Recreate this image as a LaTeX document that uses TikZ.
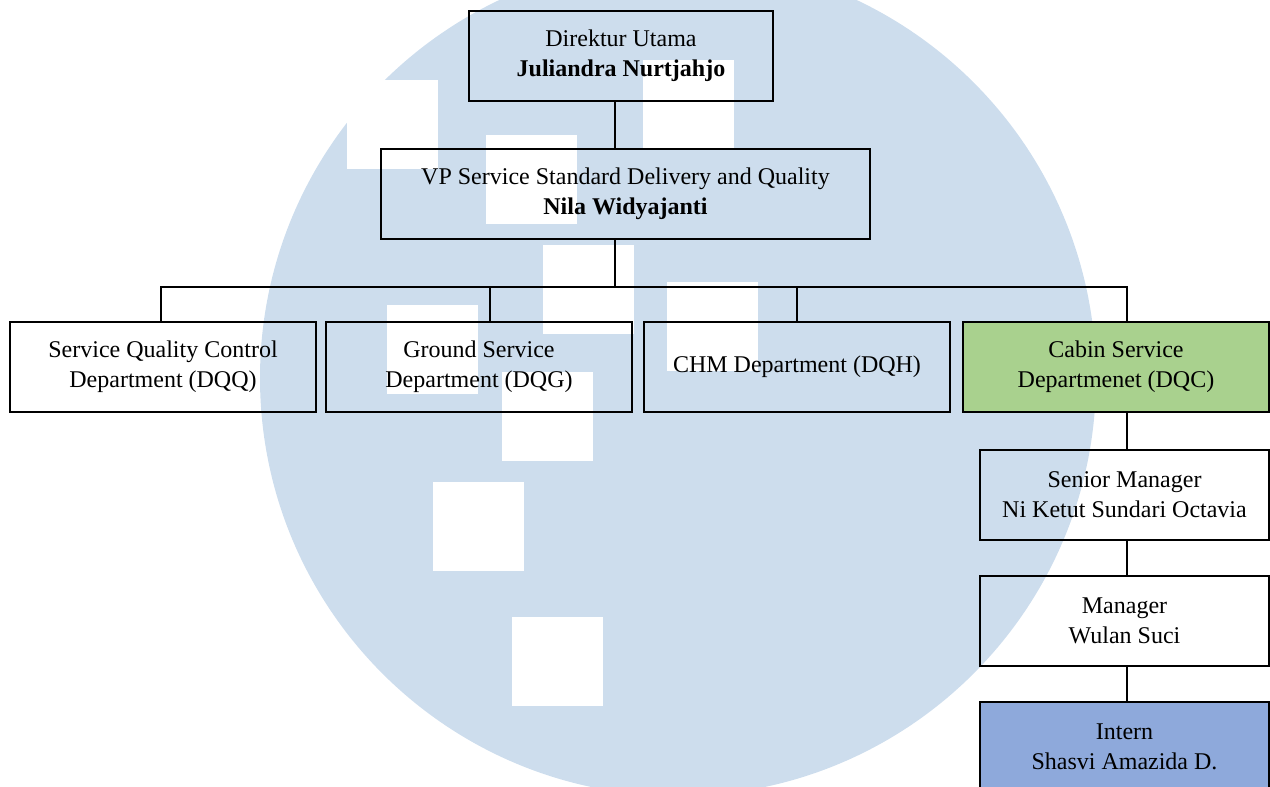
\documentclass[tikz,border=0pt]{standalone}
\usepackage{fontspec}
\setmainfont{Liberation Serif}
\usepackage{tikz}
\usetikzlibrary{positioning}
\definecolor{wmark}{HTML}{CDDDED}
\definecolor{cabingreen}{HTML}{A9D18E}
\definecolor{internblue}{HTML}{8EA9DB}
\tikzset{
    orgbox/.style = {draw,line width=1.3pt,align=center,inner sep=0,
        minimum height=45pt,font=\fontsize{12}{15}\selectfont},
    deptbox/.style = {orgbox,minimum width=153pt},
    colbox/.style = {orgbox,minimum width=144.5pt},
    link/.style = {line width=1.3pt}
}

\begin{document}
\begin{tikzpicture}[x=0.5pt,y=-0.5pt]
        \useasboundingbox (0,0) rectangle (1270,787);
        % Watermark
        \begin{scope}
            \clip (0,0) rectangle (1270,787);
            \fill[wmark] (678,378) circle[radius=209pt];
            \foreach \xa/\ya in {347/80,643/60,486/135,543/245,667/282,387/305,502/372,433/482,512/617}
                \fill[white] (\xa,\ya) rectangle +(91,89);
        \end{scope}
        % Top
        \node[orgbox,minimum width=152pt] (dir) at (621,56)
            {Direktur Utama\\\textbf{Juliandra Nurtjahjo}};
        \node[orgbox,minimum width=244.5pt] (vp) at (625.5,194)
            {VP Service Standard Delivery and Quality\\\textbf{Nila Widyajanti}};
        % Departments
        \node[deptbox] (d1) at (163,367) {Service Quality Control\\Department (DQQ)};
        \node[deptbox] (d2) at (479,367) {Ground Service\\Department (DQG)};
        \node[deptbox] (d3) at (797,367) {CHM Department (DQH)};
        \node[deptbox,fill=cabingreen] (d4) at (1116,367) {Cabin Service\\Departmenet (DQC)};
        % Cabin service column
        \node[colbox] (sm) at (1124.5,495) {Senior Manager\\Ni Ketut Sundari Octavia};
        \node[colbox] (mgr) at (1124.5,621) {Manager\\Wulan Suci};
        \node[colbox,fill=internblue] (intern) at (1124.5,747) {Intern\\Shasvi Amazida D.};
        % Bus
        \path (615,287) coordinate (b0)
            (161,287) coordinate (b1)
            (490,287) coordinate (b2)
            (797,287) coordinate (b3)
            (1127,287) coordinate (b4);
        % Links
        \draw[link] (dir.south -| b0) -- (vp.north -| b0);
        \draw[link] (vp.south -| b0) -- (b0);
        \draw[link] (b1 |- d1.north) -- (b1) -- (b4) -- (b4 |- d4.north);
        \foreach \i in {2,3}
            \draw[link] (b\i) -- (b\i |- d\i.north);
        \foreach \up/\dn in {d4/sm,sm/mgr,mgr/intern}
            \draw[link] (\up.south -| b4) -- (\dn.north -| b4);
    \end{tikzpicture}
\end{document}
